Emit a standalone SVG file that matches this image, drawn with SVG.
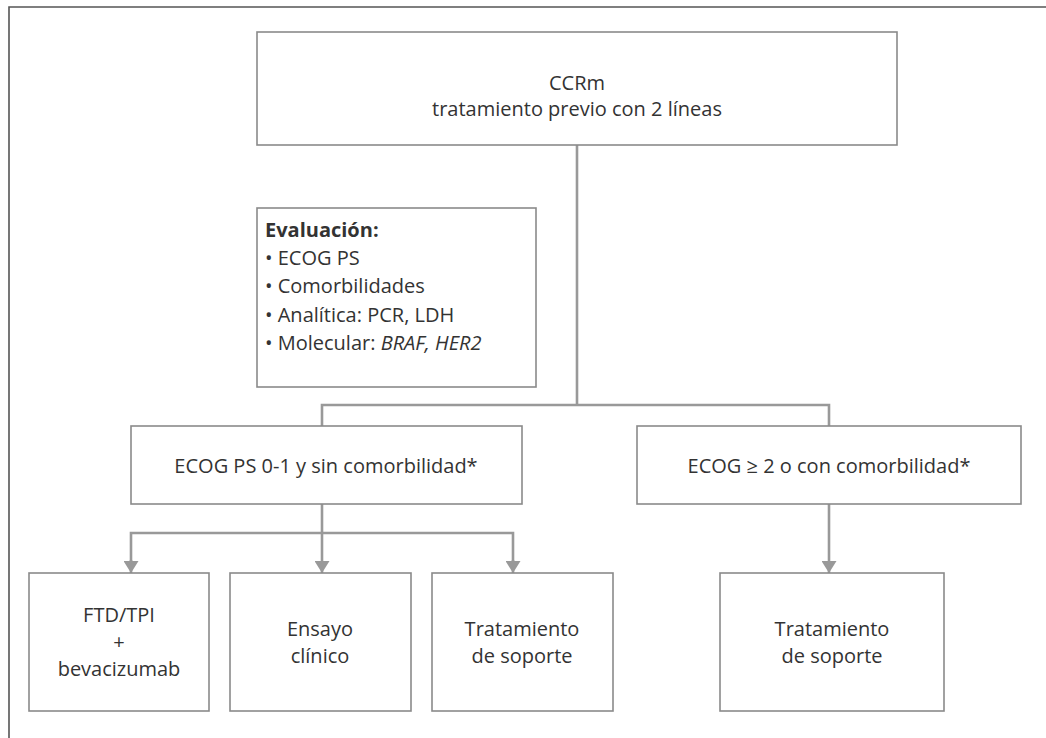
<svg xmlns="http://www.w3.org/2000/svg" width="1046" height="738" viewBox="0 0 1046 738">
<style>
.box{fill:#fff;stroke:#8a8a8a;stroke-width:1.6}
.t{font-family:"Open Sans","Liberation Sans",sans-serif;font-size:20px;font-weight:400;fill:#333;text-anchor:middle}
.tl{font-family:"Open Sans","Liberation Sans",sans-serif;font-size:20px;font-weight:400;fill:#333}
.tb{font-weight:700}
.c{fill:none;stroke:#999;stroke-width:2.6}
</style>
<defs>
<marker id="ah" markerWidth="12" markerHeight="15" refX="12" refY="7.5" orient="auto" markerUnits="userSpaceOnUse" viewBox="0 0 12 15">
<path d="M0,0 L12,7.5 L0,15 Z" fill="#999"/>
</marker>
</defs>
<rect width="1046" height="738" fill="#fff"/>
<path d="M9,738 V7 H1046" fill="none" stroke="#555" stroke-width="1.6"/>
<g id="connectors">
<path class="c" d="M577,145 V405"/>
<path class="c" d="M322,426 V405 H829 V426"/>
<path class="c" d="M322,504 V533"/>
<path class="c" d="M131,562 V533 H513 V562"/>
<path class="c" d="M131,560 V573" marker-end="url(#ah)"/>
<path class="c" d="M322,533 V573" marker-end="url(#ah)"/>
<path class="c" d="M513,560 V573" marker-end="url(#ah)"/>
<path class="c" d="M829,504 V573" marker-end="url(#ah)"/>
</g>
<g id="n-top">
<rect class="box" x="257" y="32" width="640" height="113"/>
<text class="t" x="577" y="90">CCRm</text>
<text class="t" x="577" y="116">tratamiento previo con 2 líneas</text>
</g>
<g id="n-eval">
<rect class="box" x="257" y="208" width="279" height="179"/>
<text class="tl tb" x="265" y="237">Evaluación:</text>
<text class="tl" x="265" y="265">• ECOG PS</text>
<text class="tl" x="265" y="293">• Comorbilidades</text>
<text class="tl" x="265" y="322">• Analítica: PCR, LDH</text>
<text class="tl" x="265" y="350">• Molecular: <tspan font-style="italic">BRAF, HER2</tspan></text>
</g>
<g id="n-left">
<rect class="box" x="131" y="426" width="391" height="78"/>
<text class="t" x="326" y="473">ECOG PS 0-1 y sin comorbilidad*</text>
</g>
<g id="n-right">
<rect class="box" x="637" y="426" width="384" height="78"/>
<text class="t" x="829" y="473">ECOG ≥ 2 o con comorbilidad*</text>
</g>
<g id="n-ftd">
<rect class="box" x="29" y="573" width="180" height="138"/>
<text class="t" x="119" y="622">FTD/TPI</text>
<text class="t" x="119" y="649">+</text>
<text class="t" x="119" y="676">bevacizumab</text>
</g>
<g id="n-ensayo">
<rect class="box" x="230" y="573" width="181" height="138"/>
<text class="t" x="320" y="636">Ensayo</text>
<text class="t" x="320" y="663">clínico</text>
</g>
<g id="n-sop1">
<rect class="box" x="432" y="573" width="181" height="138"/>
<text class="t" x="522" y="636">Tratamiento</text>
<text class="t" x="522" y="663">de soporte</text>
</g>
<g id="n-sop2">
<rect class="box" x="720" y="573" width="224" height="138"/>
<text class="t" x="832" y="636">Tratamiento</text>
<text class="t" x="832" y="663">de soporte</text>
</g>
</svg>
